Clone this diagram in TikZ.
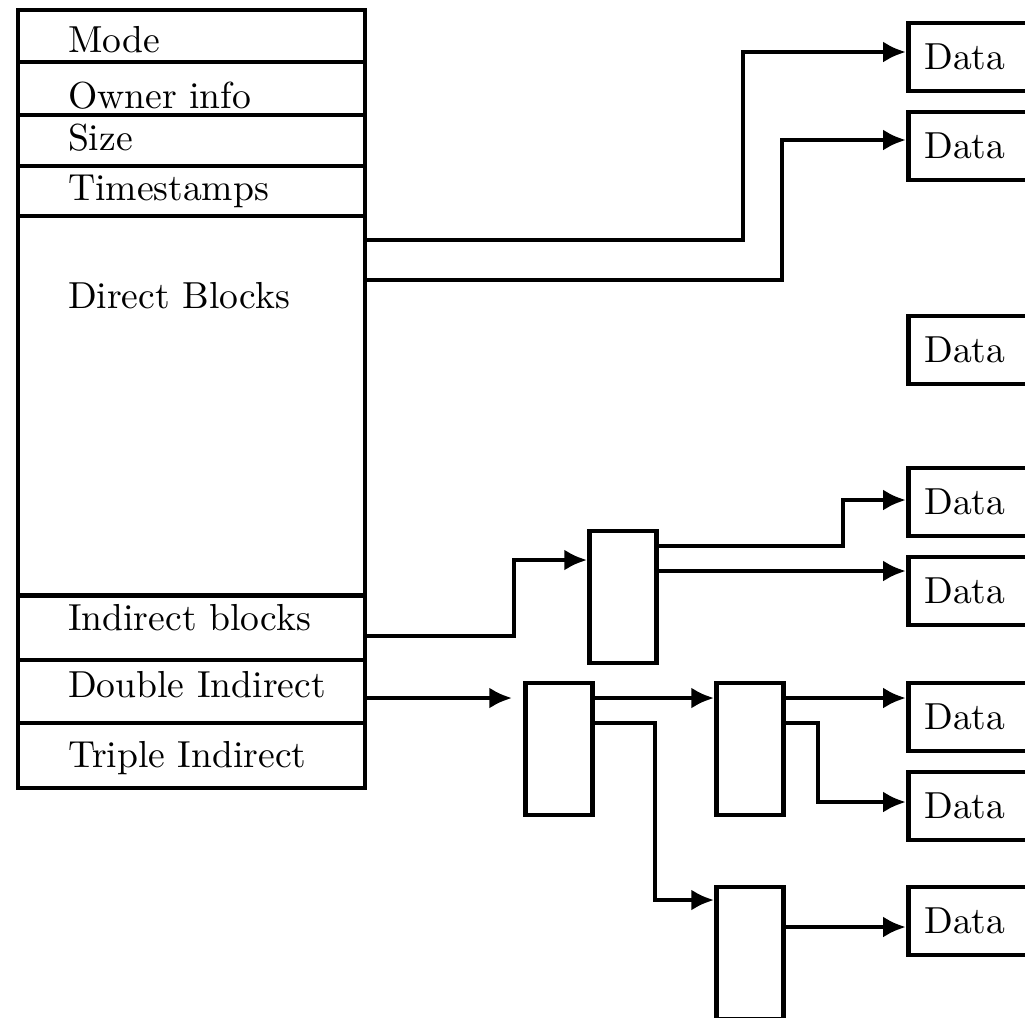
\documentclass[tikz,border=0pt]{standalone}
\usetikzlibrary{arrows.meta}
\begin{document}
\begin{tikzpicture}[x=0.01cm,y=-0.01cm,line width=1.3pt,
    every node/.style={font=\fontsize{10.7}{13}\selectfont},
    field/.style 2 args={rectangle,draw,anchor=north west,outer sep=0pt,inner ysep=0pt,
                  text width=2.47cm,inner xsep=0.5cm,align=left,
                  text height=#1,text depth=#2},
    blk/.style={rectangle,draw,minimum width=0.67cm,minimum height=1.32cm},
    data/.style={rectangle,draw,anchor=west,minimum height=0.68cm,
                 text width=1.5cm,inner xsep=0.16cm,align=left},
    ptr/.style={-{Latex[length=6.5pt,width=6pt]}}]
  \path[use as bounding box] (0,0) rectangle (1025,1017);
  \clip (0,0) rectangle (1025,1017);

  % inode
  \node[field={0.42cm}{0.10cm}] (mode) at (18,10) {Mode};
  \node[field={0.46cm}{0.07cm}] (owner) at (18,62) {Owner info};
  \node[field={0.35cm}{0.16cm}] (size) at (18,115) {Size};
  \node[field={0.34cm}{0.16cm}] (stamps) at (18,166) {Timestamps};
  \node[field={0.92cm}{2.87cm}] (direct) at (18,216) {Direct Blocks};
  \node[field={0.35cm}{0.30cm}] (ind) at (18,595) {Indirect blocks};
  \node[field={0.37cm}{0.26cm}] (dbl) at (18,660) {\mbox{Double Indirect}};
  \node[field={0.44cm}{0.21cm}] (tpl) at (18,723) {Triple Indirect};

  % pointer blocks
  \node[blk] (ind1) at (623,597) {};
  \node[blk] (dbl1) at (559,749) {};
  \node[blk] (dbl2a) at (750,749) {};
  \node[blk] (dbl2b) at (750,953) {};

  % data blocks
  \node[data] (data1) at (906,57) {Data};
  \node[data] (data2) at (906,146) {Data};
  \node[data] (data3) at (906,350) {Data};
  \node[data] (data4) at (906,502) {Data};
  \node[data] (data5) at (906,591) {Data};
  \node[data] (data6) at (906,717) {Data};
  \node[data] (data7) at (906,806) {Data};
  \node[data] (data8) at (906,921) {Data};

  \draw[ptr] (direct.east |- 0,240) -| (743,52) -- (data1.west |- 0,52);
  \draw[ptr] (direct.east |- 0,280) -| (782,140) -- (data2.west |- 0,140);
  \draw[ptr] (ind.east |- 0,636) -| (514,560) -- (ind1.west |- 0,560);
  \draw[ptr] (ind1.east |- 0,546) -| (843,500) -- (data4.west |- 0,500);
  \draw[ptr] (ind1.east |- 0,571) -- (data5.west |- 0,571);
  \draw[ptr,shorten >=0.11cm] (dbl.east |- 0,698) -- (dbl1.west |- 0,698);
  \draw[ptr] (dbl1.east |- 0,698) -- (dbl2a.west |- 0,698);
  \draw[ptr] (dbl1.east |- 0,723) -| (655,900) -- (dbl2b.west |- 0,900);
  \draw[ptr] (dbl2a.east |- 0,698) -- (data6.west |- 0,698);
  \draw[ptr] (dbl2a.east |- 0,723) -| (818,802) -- (data7.west |- 0,802);
  \draw[ptr] (dbl2b.east |- 0,927) -- (data8.west |- 0,927);
\end{tikzpicture}
\end{document}
